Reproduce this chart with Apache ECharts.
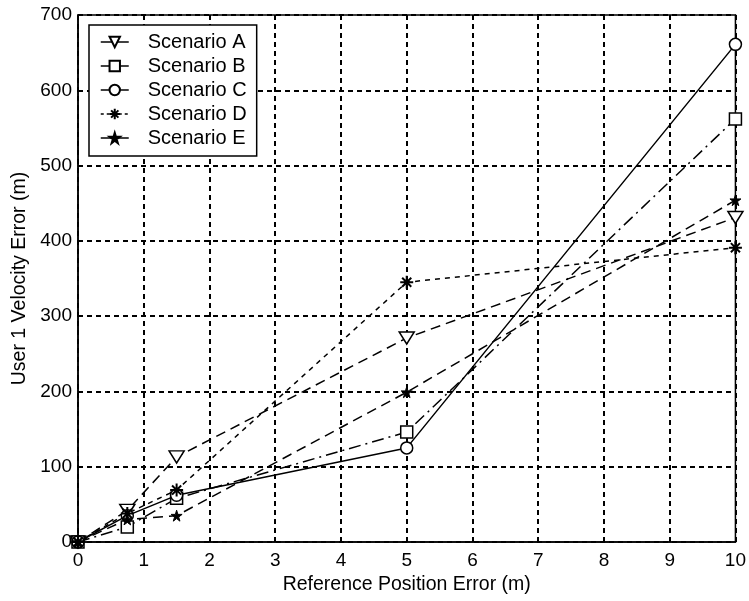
<!DOCTYPE html>
<html>
<head>
<meta charset="utf-8">
<script src="https://cdn.jsdelivr.net/npm/echarts@6/dist/echarts.min.js"></script>
<style>
  html, body { margin: 0; padding: 0; background: #fff; }
  #chart { width: 749px; height: 601px; }
</style>
</head>
<body>
<div id="chart"></div>
<script>
// Reference position error (m) at which each scenario was evaluated
const refError = [0, 0.75, 1.5, 5, 10];

// User 1 velocity error (m) per scenario
const scenarioA = [0, 42, 113, 271, 431];
const scenarioB = [0, 20, 58, 146, 562];
const scenarioC = [0, 35, 62, 125, 661];
const scenarioD = [0, 38, 69, 345, 391];
const scenarioE = [0, 30, 35, 199, 454];

const seriesNames = ['Scenario A', 'Scenario B', 'Scenario C', 'Scenario D', 'Scenario E'];
const xTicks = [0, 1, 2, 3, 4, 5, 6, 7, 8, 9, 10];
const yTicks = [0, 100, 200, 300, 400, 500, 600, 700];

const FONT = '"Liberation Sans", Arial, Helvetica, sans-serif';

const pairs = ys => refError.map((x, i) => [x, ys[i]]);

// marker shapes
const TRI_DOWN = 'path://M0,0 L12,0 L6,10 Z';
const ASTERISK = 'path://M5,0 L5,10 M0,5 L10,5 M1.5,1.5 L8.5,8.5 M1.5,8.5 L8.5,1.5';
const STAR = 'path://M50,0 L61,35 L98,35 L68,57 L79,91 L50,70 L21,91 L32,57 L2,35 L39,35 Z';

function makeSeries(name, ys, symbol, size, dash, fill, bw) {
  return {
    name: name,
    type: 'line',
    data: pairs(ys),
    symbol: symbol,
    symbolSize: size,
    showAllSymbol: true,
    z: 3,
    lineStyle: { color: '#000', width: 1.5, type: dash },
    itemStyle: { color: fill, borderColor: '#000', borderWidth: bw || 1.5 },
    emphasis: { disabled: true },
    animation: false
  };
}

// legend samples: short solid strokes, dotted for Scenario D
const legendData = seriesNames.map((n, i) => ({
  name: n,
  lineStyle: { type: i === 3 ? [3, 3] : 'solid', width: 1.5, color: '#000' }
}));

const chart = echarts.init(document.getElementById('chart'), null, { renderer: 'canvas' });

chart.setOption({
  backgroundColor: '#fff',
  animation: false,
  grid: {
    left: 78, right: 9, top: 15, bottom: 59,
    show: true, borderColor: '#000', borderWidth: 1.5, backgroundColor: 'transparent'
  },
  legend: {
    orient: 'vertical',
    left: 89, top: 25,
    padding: [7, 10, 8, 11],
    itemGap: 4,
    itemWidth: 28,
    itemHeight: 13,
    backgroundColor: '#fff',
    borderColor: '#000',
    borderWidth: 1.5,
    borderRadius: 0,
    data: legendData,
    textStyle: { fontFamily: FONT, fontSize: 20, color: '#000', lineHeight: 20, padding: [0, 0, 0, 14] }
  },
  xAxis: {
    type: 'value',
    min: 0, max: 10, interval: 1,
    name: 'Reference Position Error (m)',
    nameLocation: 'middle',
    nameGap: 28,
    nameTextStyle: { fontFamily: FONT, fontSize: 19.5, color: '#000' },
    axisLine: { show: true, onZero: false, lineStyle: { color: '#000', width: 1.5 } },
    axisTick: { show: true, inside: true, length: 5, lineStyle: { color: '#000', width: 1.5 } },
    axisLabel: {
      fontFamily: FONT, fontSize: 19, color: '#000', margin: 9,
      formatter: v => (xTicks.indexOf(v) >= 0 ? String(v) : '')
    },
    splitLine: { show: true, lineStyle: { color: '#000', width: 2, type: [5, 4] } }
  },
  yAxis: {
    type: 'value',
    min: 0, max: 700, interval: 100,
    name: 'User 1 Velocity Error (m)',
    nameLocation: 'middle',
    nameGap: 46,
    nameTextStyle: { fontFamily: FONT, fontSize: 19.5, color: '#000' },
    axisLine: { show: true, lineStyle: { color: '#000', width: 1.5 } },
    axisTick: { show: true, inside: true, length: 5, lineStyle: { color: '#000', width: 1.5 } },
    axisLabel: {
      fontFamily: FONT, fontSize: 19, color: '#000', margin: 6,
      formatter: v => (yTicks.indexOf(v) >= 0 ? String(v) : '')
    },
    splitLine: { show: true, lineStyle: { color: '#000', width: 2, type: [5, 4] } }
  },
  series: [
    makeSeries(seriesNames[0], scenarioA, TRI_DOWN, [15, 12], [10, 6], '#fff'),
    makeSeries(seriesNames[1], scenarioB, 'rect', 12, [12, 5, 2, 5], '#fff'),
    makeSeries(seriesNames[2], scenarioC, 'circle', 12, 'solid', '#fff'),
    makeSeries(seriesNames[3], scenarioD, ASTERISK, 13, [5, 5], '#000', 2),
    makeSeries(seriesNames[4], scenarioE, STAR, 11, [10, 6], '#000', 1)
  ]
});
</script>
</body>
</html>
